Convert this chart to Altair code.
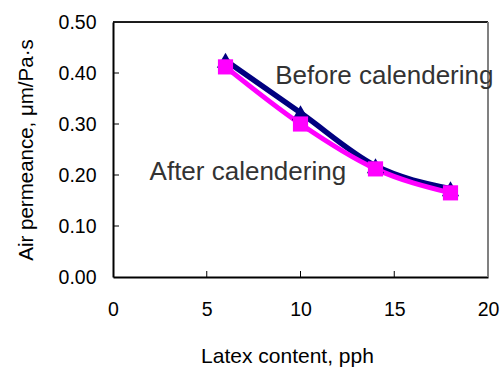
import altair as alt
import pandas as pd

latex = [6, 10, 14, 18]
before = [0.425, 0.322, 0.218, 0.173]
after = [0.412, 0.300, 0.212, 0.165]
x_ticks = [0, 5, 10, 15, 20]
y_ticks = [0.0, 0.1, 0.2, 0.3, 0.4, 0.5]

df = pd.DataFrame({
    "x": latex * 2,
    "y": before + after,
    "series": ["Before calendering"] * 4 + ["After calendering"] * 4,
})
df_b = df[df.series == "Before calendering"]
df_a = df[df.series == "After calendering"]

W, H = 375, 255
FONT = "Liberation Sans"

xs = alt.Scale(domain=[0, 20], nice=False)
ys = alt.Scale(domain=[0, 0.5], nice=False)

xenc = alt.X("x:Q", scale=xs, axis=alt.Axis(
    values=x_ticks, title="Latex content, pph", labelFontSize=19.5, titleFontSize=21,
    labelFont=FONT, titleFont=FONT, titleFontWeight="normal", labelColor="#000", titleColor="#000",
    domainColor="#000", domainWidth=2, ticks=False, labelPadding=23, titlePadding=27,
    titleX=174, titleAnchor="middle",
    grid=False, labelFlush=False))
yenc = alt.Y("y:Q", scale=ys, axis=alt.Axis(
    values=y_ticks, format=".2f", title="Air permeance,  μm/Pa·s", labelFontSize=19.5,
    titleFontSize=20.5, labelFont=FONT, titleFont=FONT, titleFontWeight="normal",
    labelColor="#000", titleColor="#000", domainColor="#000", domainWidth=2, ticks=False,
    labelPadding=17, titlePadding=22, grid=False, labelFlush=False))

line_b = alt.Chart(df_b).mark_line(color="#000080", strokeWidth=5.5, interpolate="monotone").encode(x=xenc, y=yenc)
pts_b = alt.Chart(df_b).mark_point(shape="triangle-up", filled=True, color="#000080", size=300, opacity=1).encode(x="x:Q", y="y:Q")
line_a = alt.Chart(df_a).mark_line(color="#FF00FF", strokeWidth=5, interpolate="monotone").encode(x="x:Q", y="y:Q")
pts_a = alt.Chart(df_a).mark_point(shape="square", filled=True, color="#FF00FF", size=230, opacity=1).encode(x="x:Q", y="y:Q")

# inner tick marks
xt = pd.DataFrame({"t": [5, 10, 15]})
xtick = alt.Chart(xt).mark_rule(color="#000", strokeWidth=1).encode(
    x=alt.X("t:Q", scale=xs), y=alt.value(H), y2=alt.value(H - 6))
yt = pd.DataFrame({"t": [0.1, 0.2, 0.3, 0.4]})
ytick = alt.Chart(yt).mark_rule(color="#000", strokeWidth=1).encode(
    y=alt.Y("t:Q", scale=ys), x=alt.value(0), x2=alt.value(6))

top = alt.Chart(xt).mark_rule(color="#000", strokeWidth=1).encode(
    x=alt.value(0), x2=alt.value(W), y=alt.value(0))
right = alt.Chart(xt).mark_rule(color="#808080", strokeWidth=2).encode(
    x=alt.value(W), y=alt.value(0), y2=alt.value(H))

labels = pd.DataFrame({
    "x": [8.65, 1.95],
    "y": [0.395, 0.205],
    "text": ["Before calendering", "After calendering"],
})
txt = alt.Chart(labels).mark_text(align="left", baseline="middle", fontSize=26, font=FONT, color="#333333").encode(
    x=alt.X("x:Q", scale=xs), y=alt.Y("y:Q", scale=ys), text="text:N")

chart = alt.layer(top, right, xtick, ytick, line_b, line_a, pts_b, pts_a, txt).properties(
    width=W, height=H, autosize="none",
    padding={"left": 113, "top": 22, "right": 12, "bottom": 92},
).configure_view(stroke=None).configure(background="white")

chart.save("out.html", embed_options={"renderer": "svg", "actions": False})
